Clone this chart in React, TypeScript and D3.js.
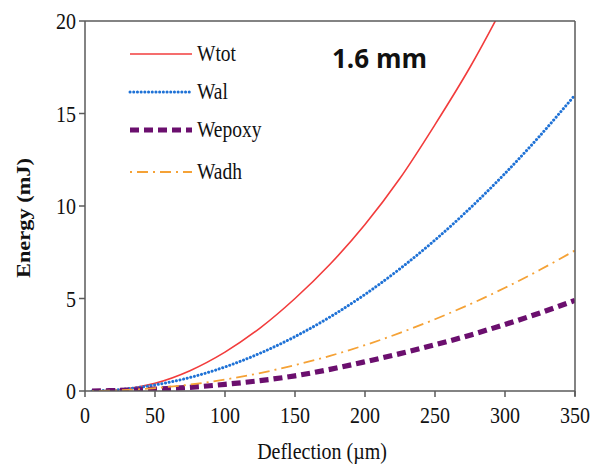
import React from "react";
import * as d3 from "d3";

const deflection = [5, 25, 50, 75, 100, 125, 150, 175, 200, 225, 250, 275, 300, 325, 350];
const wtot = [0.0, 0.08, 0.42, 1.1, 2.1, 3.4, 5.0, 6.85, 9.0, 11.5, 14.4, 17.5, 21.0, 24.8, 28.9];
const wal = [0.0, 0.08, 0.33, 0.73, 1.3, 2.04, 2.94, 4.0, 5.22, 6.61, 8.16, 9.88, 11.76, 13.8, 16.0];
const wepoxy = [0.0, 0.03, 0.1, 0.2, 0.36, 0.56, 0.82, 1.17, 1.58, 2.02, 2.5, 3.02, 3.6, 4.22, 4.9];
const wadh = [0.0, 0.04, 0.16, 0.35, 0.62, 0.97, 1.4, 1.9, 2.48, 3.14, 3.88, 4.69, 5.58, 6.55, 7.6];

const xTicks = [0, 50, 100, 150, 200, 250, 300, 350];
const yTicks = [0, 5, 10, 15, 20];

const seriesNames = ["Wtot", "Wal", "Wepoxy", "Wadh"];
const seriesValues = [wtot, wal, wepoxy, wadh];
const seriesStyles = [
  { color: "#f23c3c", width: 1.6, dash: "", cap: "butt" },
  { color: "#1f72d6", width: 3, dash: "0.1 3.6", cap: "round" },
  { color: "#6b0f6e", width: 5.2, dash: "9 5", cap: "butt" },
  { color: "#f5a236", width: 1.8, dash: "2 5 11 5", cap: "butt" },
];

const W = 600, H = 464;
const left = 85, right = 575, top = 21, bottom = 391;
const SY = 1.18;

export default function App() {
  const x = d3.scaleLinear().domain([0, 350]).range([left, right]);
  const y = d3.scaleLinear().domain([0, 20]).range([bottom, top]);
  const line = d3.line<[number, number]>().x(d => x(d[0])).y(d => y(d[1])).curve(d3.curveCatmullRom);
  const axisColor = "#5a5a5a";
  const serif = "'Liberation Serif', 'Times New Roman', serif";
  const legendY = [54, 92, 130, 172];
  return (
    <svg width={W} height={H} style={{ position: "absolute", left: 0, top: 0, background: "#fff" }}>
      <defs>
        <clipPath id="plot">
          <rect x={left} y={top} width={right - left} height={bottom - top} />
        </clipPath>
      </defs>
      <rect x={0} y={0} width={W} height={H} fill="#fff" />
      <g clipPath="url(#plot)">
        {seriesValues.map((vals, i) => (
          <path
            key={i}
            d={line(deflection.map((d, j) => [d, vals[j]] as [number, number])) || ""}
            fill="none"
            stroke={seriesStyles[i].color}
            strokeWidth={seriesStyles[i].width}
            strokeDasharray={seriesStyles[i].dash}
            strokeLinecap={seriesStyles[i].cap as any}
          />
        ))}
      </g>
      <line x1={left} y1={top} x2={right} y2={top} stroke={axisColor} strokeWidth={1.5} />
      <line x1={right} y1={top} x2={right} y2={bottom + 5} stroke={axisColor} strokeWidth={1.5} />
      <line x1={left} y1={top} x2={left} y2={bottom} stroke={axisColor} strokeWidth={1.5} />
      <line x1={left} y1={bottom} x2={right} y2={bottom} stroke={axisColor} strokeWidth={1.5} />
      {xTicks.map(t => (
        <g key={"x" + t}>
          <line x1={x(t)} x2={x(t)} y1={bottom} y2={bottom + 6} stroke={axisColor} strokeWidth={1.5} />
          <text transform={`translate(${x(t)},423) scale(1,${SY})`} textAnchor="middle" fontFamily={serif} fontSize={20} fill="#111">{t}</text>
        </g>
      ))}
      {yTicks.map(t => (
        <g key={"y" + t}>
          <line x1={left - 6} x2={left} y1={y(t)} y2={y(t)} stroke={axisColor} strokeWidth={1.5} />
          <text transform={`translate(${left - 9},${y(t) + 8}) scale(1,${SY})`} textAnchor="end" fontFamily={serif} fontSize={20} fill="#111">{t}</text>
        </g>
      ))}
      <text transform={`translate(322,459) scale(1,${SY})`} textAnchor="middle" fontFamily={serif} fontSize={20} fill="#111">Deflection (µm)</text>
      <text transform={`translate(30,218) rotate(-90) scale(${SY},1)`} textAnchor="middle" fontFamily={serif} fontSize={19} fontWeight="bold" fill="#111">Energy (mJ)</text>
      <text x={332} y={68} fontFamily="'Open Sans', 'Noto Sans', sans-serif" fontSize={26} fontWeight="bold" fill="#111">1.6 mm</text>
      {seriesNames.map((n, i) => (
        <g key={n}>
          <line x1={130} x2={192} y1={legendY[i]} y2={legendY[i]} stroke={seriesStyles[i].color}
            strokeWidth={seriesStyles[i].width} strokeDasharray={seriesStyles[i].dash}
            strokeLinecap={seriesStyles[i].cap as any} />
          <text transform={`translate(197,${legendY[i] + 7}) scale(1,${SY})`} fontFamily={serif} fontSize={19.5} fill="#111">{n}</text>
        </g>
      ))}
    </svg>
  );
}
